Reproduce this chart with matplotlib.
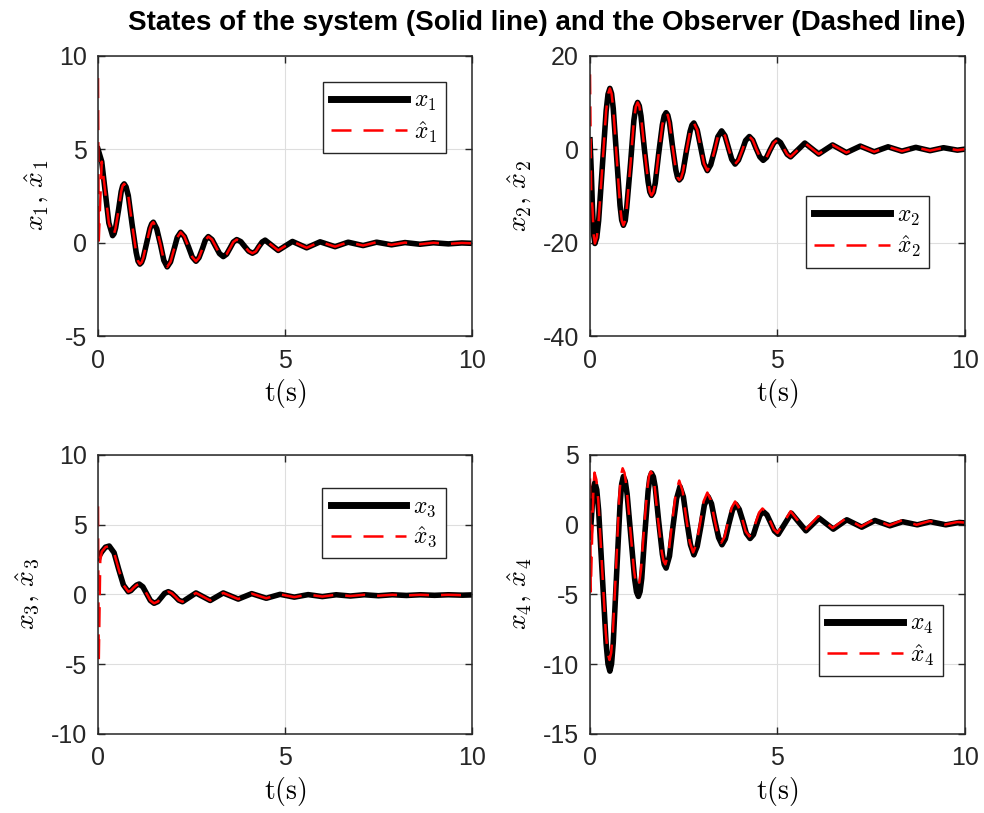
import numpy as np
import matplotlib
matplotlib.use('Agg')
import matplotlib.pyplot as plt

plt.rcParams['mathtext.fontset'] = 'cm'
plt.rcParams['font.family'] = 'Liberation Sans'
plt.rcParams['axes.unicode_minus'] = False

# ---- data ----
# x1 (system) and x1 hat (observer)
t1 = [0, 0.1, 0.2, 0.29, 0.39, 0.43, 0.47, 0.55, 0.62, 0.66, 0.70, 0.75, 0.81, 0.91, 1.02, 1.07, 1.12,
      1.165, 1.21, 1.30, 1.39, 1.435, 1.48, 1.57, 1.67, 1.76, 1.85, 1.94, 2.03, 2.12, 2.21,
      2.31, 2.42, 2.52, 2.62, 2.70, 2.79, 2.87, 2.95, 3.05, 3.15, 3.25, 3.35,
      3.44, 3.53, 3.62, 3.71, 3.82, 3.92, 4.03, 4.13, 4.22, 4.3, 4.39, 4.47,
      4.82, 5.2, 5.58, 5.94, 6.34, 6.69, 7.09, 7.45, 7.85, 8.21, 8.61, 8.97, 9.37, 9.73, 10]
x1 = [5.0, 4.33, 2.6, 1.05, 0.37, 0.48, 0.78, 1.76, 2.73, 3.04, 3.14, 2.98, 2.51, 1.0, -0.52, -0.99, -1.15,
      -1.06, -0.82, -0.03, 0.76, 1.0, 1.09, 0.74, -0.1, -0.95, -1.3, -1.03, -0.38, 0.28, 0.55,
      0.32, -0.23, -0.77, -1.0, -0.81, -0.34, 0.13, 0.32, 0.16, -0.22, -0.59, -0.75,
      -0.62, -0.3, 0.03, 0.16, 0.05, -0.2, -0.46, -0.57, -0.47, -0.22, 0.03, 0.13,
      -0.42, 0.06, -0.28, 0.04, -0.22, 0.02, -0.16, 0.02, -0.12, 0.0, -0.09, -0.01, -0.07, -0.02, -0.04]
t1h_start = [0, 0.02]
x1h_start = [8.8, 0.1]

# x2
t2 = [0, 0.035, 0.065, 0.1, 0.13, 0.18, 0.23, 0.33, 0.43, 0.48, 0.53, 0.575, 0.62, 0.71, 0.80, 0.845, 0.89,
      0.94, 0.98, 1.08, 1.17, 1.22, 1.27, 1.315, 1.36, 1.45, 1.55, 1.595, 1.64, 1.69, 1.74, 1.83, 1.93, 1.98, 2.03,
      2.075, 2.12, 2.2, 2.29, 2.335, 2.38, 2.43, 2.48, 2.57, 2.67, 2.72, 2.77, 2.86, 2.95, 3.04, 3.13,
      3.22, 3.32, 3.41, 3.51, 3.6, 3.69, 3.78, 3.87, 3.96, 4.06, 4.15, 4.25,
      4.34, 4.43, 4.53, 4.62, 4.71, 4.8, 4.9, 4.99, 5.08, 5.17, 5.26, 5.35,
      5.73, 6.1, 6.47, 6.84, 7.21, 7.58, 7.95, 8.32, 8.69, 9.07, 9.43, 9.8, 10]
x2 = [2.0, -5.0, -12.5, -18.5, -20.2, -18.94, -15.34, -3.6, 8.14, 11.74, 13.0, 11.89, 8.71, -1.65, -12.01, -15.19, -16.3,
      -15.3, -12.45, -3.15, 6.15, 9.0, 10.0, 9.24, 7.08, 0.05, -6.98, -9.14, -9.9, -9.23, -7.31, -1.05, 5.21, 7.13, 7.8,
      7.25, 5.69, 0.6, -4.49, -6.05, -6.6, -6.14, -4.81, -0.5, 3.81, 5.14, 5.6, 4.1, 0.5, -3.1, -4.6,
      -3.35, -0.35, 2.65, 3.9, 2.86, 0.35, -2.16, -3.2, -2.34, -0.25, 1.84, 2.7,
      1.95, 0.15, -1.65, -2.4, -1.76, -0.23, 1.31, 1.95, 1.42, 0.15, -1.12, -1.65,
      1.3, -1.05, 0.9, -0.75, 0.65, -0.57, 0.5, -0.43, 0.38, -0.33, 0.3, -0.22, 0.0]
t2h_start = [0, 0.03]
x2h_start = [16.0, -9.0]

# x3
t3 = [0, 0.1, 0.2, 0.3, 0.43, 0.55, 0.68, 0.81, 0.88, 0.95, 1.03, 1.1,
      1.2, 1.3, 1.4, 1.5, 1.6, 1.69, 1.78, 1.88, 1.97, 2.07, 2.16, 2.26,
      2.62, 3.0, 3.35, 3.75, 4.11, 4.5, 4.87, 5.25, 5.62, 6.0, 6.37, 6.75,
      7.12, 7.5, 7.87, 8.25, 8.62, 9.0, 9.37, 9.75, 10]
x3 = [2.6, 3.05, 3.38, 3.46, 2.98, 1.83, 0.67, 0.19, 0.27, 0.47, 0.66, 0.74,
      0.54, 0.05, -0.44, -0.64, -0.52, -0.23, 0.07, 0.19, 0.08, -0.17, -0.42, -0.53,
      0.1, -0.44, 0.1, -0.34, 0.05, -0.28, 0.0, -0.2, -0.02, -0.16, -0.03, -0.12,
      -0.03, -0.1, -0.03, -0.08, -0.03, -0.07, -0.03, -0.06, -0.04]
t3h_start = [0, 0.02, 0.06]
x3h_start = [6.3, -4.9, 2.4]

# x4 (observer differs a bit here, so own arrays)
t4 = [0, 0.03, 0.065, 0.1, 0.13, 0.18, 0.23, 0.33, 0.43, 0.48, 0.53, 0.575, 0.62, 0.71, 0.80, 0.845, 0.89,
      0.94, 0.99, 1.09, 1.19, 1.24, 1.29, 1.335, 1.38, 1.46, 1.55, 1.595, 1.64, 1.69, 1.74, 1.83, 1.93, 1.98, 2.03,
      2.12, 2.21, 2.31, 2.4, 2.49, 2.58, 2.68, 2.77, 2.86, 2.96, 3.05, 3.15,
      3.24, 3.33, 3.43, 3.52, 3.61, 3.7, 3.8, 3.89, 3.98, 4.08, 4.17, 4.27,
      4.36, 4.44, 4.53, 4.62, 4.72, 4.82, 4.92, 5.02,
      5.37, 5.76, 6.11, 6.49, 6.85, 7.25, 7.6, 8.0, 8.34, 8.73, 9.08, 9.49, 9.85, 10]
x4 = [-0.9, 0.2, 1.6, 2.7, 3.0, 2.49, 1.02, -3.75, -8.52, -9.99, -10.5, -9.97, -8.46, -3.53, 1.4, 2.91, 3.44,
      3.11, 2.18, -0.86, -3.89, -4.82, -5.15, -4.81, -3.86, -0.74, 2.39, 3.34, 3.68, 3.42, 2.68, 0.28, -2.12, -2.86, -3.12,
      -2.26, -0.2, 1.86, 2.72, 2.0, 0.28, -1.45, -2.17, -1.56, -0.09, 1.39, 2.0,
      1.5, 0.28, -0.94, -1.45, -1.03, 0.0, 1.03, 1.45, 1.09, 0.23, -0.64, -1.0,
      -0.72, -0.04, 0.65, 0.93, 0.69, 0.12, -0.46, -0.7,
      0.81, -0.45, 0.46, -0.33, 0.34, -0.19, 0.29, -0.09, 0.2, -0.02, 0.2, -0.02, 0.15, 0.12]
t4h = [0, 0.02, 0.06, 0.09, 0.12, 0.17, 0.22, 0.32, 0.42, 0.47, 0.52, 0.565, 0.61, 0.7, 0.78, 0.825, 0.87,
       0.92, 0.97, 1.07, 1.17, 1.22, 1.27, 1.315, 1.36, 1.44, 1.53, 1.575, 1.62, 1.67, 1.72, 1.81, 1.91, 1.96, 2.01,
       2.1, 2.19, 2.29, 2.38, 2.47, 2.56, 2.66, 2.75, 2.84, 2.94, 3.03, 3.13,
       3.22, 3.31, 3.41, 3.5, 3.59, 3.68, 3.78, 3.87, 3.96, 4.06, 4.15, 4.25,
       4.34, 4.42, 4.51, 4.6, 4.7, 4.8, 4.9, 5.0,
       5.35, 5.74, 6.09, 6.47, 6.83, 7.23, 7.58, 7.98, 8.32, 8.71, 9.06, 9.47, 9.8, 10]
x4h = [3.3, -4.8, -0.5, 2.5, 3.72, 3.21, 1.75, -2.99, -7.73, -9.19, -9.7, -9.18, -7.69, -2.84, 2.02, 3.51, 4.03,
       3.71, 2.79, -0.21, -3.21, -4.13, -4.45, -4.14, -3.24, -0.33, 2.59, 3.49, 3.8, 3.55, 2.83, 0.48, -1.88, -2.6, -2.85,
       -1.97, 0.15, 2.27, 3.15, 2.4, 0.58, -1.25, -2.0, -1.37, 0.15, 1.66, 2.29,
       1.77, 0.5, -0.78, -1.3, -0.87, 0.18, 1.22, 1.65, 1.28, 0.4, -0.48, -0.85,
       -0.56, 0.15, 0.86, 1.15, 0.89, 0.28, -0.34, -0.6,
       0.95, -0.38, 0.6, -0.25, 0.45, -0.15, 0.38, -0.07, 0.3, -0.02, 0.25, 0.0, 0.18, 0.14]

yticks = [[-5, 0, 5, 10], [-40, -20, 0, 20], [-10, -5, 0, 5, 10], [-15, -10, -5, 0, 5]]
xticks = [0, 5, 10]

# observer curves: initial transient then same as the system
t1h = t1h_start + t1[1:]
x1h = x1h_start + x1[1:]
t2h = t2h_start + t2[2:]
x2h = x2h_start + x2[2:]
t3h = t3h_start + t3[1:]
x3h = x3h_start + x3[1:]

curves = [(t1, x1, t1h, x1h), (t2, x2, t2h, x2h), (t3, x3, t3h, x3h), (t4, x4, t4h, x4h)]

# axes boxes in figure fractions (left, bottom, width, height)
boxes = [[0.0996, 0.5867, 0.380, 0.3448], [0.5996, 0.5867, 0.381, 0.3448],
         [0.0996, 0.0972, 0.380, 0.3435], [0.5996, 0.0972, 0.381, 0.3435]]
leg_loc = ['upper right', 'lower right', 'upper right', 'lower right']
leg_anchor = [(0.930, 0.907), (0.904, 0.244), (0.930, 0.882), (0.941, 0.208)]

fig = plt.figure(figsize=(9.84, 8.13), dpi=100)
for i in range(4):
    ax = fig.add_axes(boxes[i])
    tt, xx, tth, xxh = curves[i]
    n = i + 1
    ax.plot(tt, xx, color='black', lw=4, solid_joinstyle='round',
            label=r'$x_%d$' % n)
    ax.plot(tth, xxh, color='red', lw=1.8, dashes=(8, 4.8),
            label=r'$\hat{x}_%d$' % n)
    ax.set_xlim(0, 10)
    ax.set_ylim(yticks[i][0], yticks[i][-1])
    ax.set_xticks(xticks)
    ax.set_yticks(yticks[i])
    ax.grid(True, color='#dedede', lw=0.8)
    ax.set_axisbelow(True)
    ax.tick_params(direction='in', top=True, right=True, length=5, width=1,
                   labelsize=18, colors='#262626')
    ax.tick_params(axis='x', pad=9)
    ax.tick_params(axis='y', pad=8)
    for s in ax.spines.values():
        s.set_color('#262626')
        s.set_linewidth(1.1)
    ax.set_xlabel(r'$\mathrm{t(s)}$', fontsize=20, labelpad=3)
    ax.set_ylabel(r'$x_%d,\,\hat{x}_%d$' % (n, n), fontsize=20, labelpad=6)
    leg = ax.legend(loc=leg_loc[i], bbox_to_anchor=leg_anchor[i], borderaxespad=0,
                    fontsize=17, handlelength=3.2, fancybox=False, framealpha=1,
                    edgecolor='#262626', borderpad=0.35, labelspacing=0.25,
                    handletextpad=0.3)
    leg.get_frame().set_linewidth(1.0)
    leg.get_lines()[0].set_linewidth(5)

fig.text(0.556, 0.972, 'States of the system (Solid line) and the Observer (Dashed line)',
         ha='center', va='center', fontsize=20, fontweight='bold')

plt.savefig('out.png', dpi=100)
